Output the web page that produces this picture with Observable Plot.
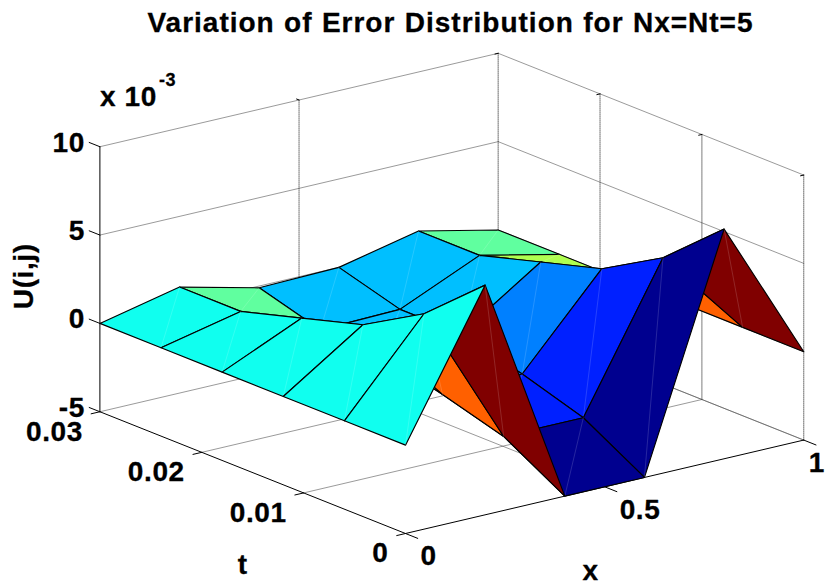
<!DOCTYPE html>
<html>
<head>
<meta charset="utf-8">
<script src="https://cdn.jsdelivr.net/npm/d3@7"></script>
<script src="https://cdn.jsdelivr.net/npm/@observablehq/plot@0.6"></script>
<style>
html,body{margin:0;padding:0;background:#fff;overflow:hidden}
#title{height:48px;width:826px;box-sizing:border-box;padding-top:7px;padding-left:75px;text-align:center;font:bold 28px "Liberation Sans",Arial,sans-serif;letter-spacing:1px;word-spacing:.6px;color:#000;white-space:nowrap;-webkit-text-stroke:.3px #000}
svg{display:block}
</style>
</head>
<body>
<div id="title">Variation of Error Distribution for Nx=Nt=5</div>
<div id="chart"></div>
<script>
// data: surface heights U(i,j) x 10^-3, rows by t node, columns by x node
const xNodes = [0, 0.2, 0.4, 0.6, 0.8, 1];
const tNodes = [0, 0.006, 0.012, 0.018, 0.024, 0.03];
const U_t0 = [0, 8, -5, -5, 8, 0];
const U_t1 = [0, 5, -3, -3, 5, 0];
const U_t2 = [0, 3, -2, -1.9, 3, 0];
const U_t3 = [0, 2, -1.1, -1, 2, 0];
const U_t4 = [0, 1, -1.1, -1, 1, 0];
const U_t5 = [0, 1, -0.1, 0, 1, 0];
const U = [U_t0, U_t1, U_t2, U_t3, U_t4, U_t5];

const xTicks = [0, 0.5, 1];
const tTicks = [0, 0.01, 0.02, 0.03];
const zTicks = [-5, 0, 5, 10];
const xLim = [0, 1], tLim = [0, 0.03], zLim = [-5, 10];
const colorLim = [-5, 8];

// MATLAB-style orthographic view: az = -37.5, el = 17.8
const az = 37.5 * Math.PI / 180, el = 17.8 * Math.PI / 180, boxZ = 0.5545;
const view = (x, t, z) => {
  const X = x, T = t / tLim[1], Z = (z - zLim[0]) / (zLim[1] - zLim[0]);
  return {
    u: X * Math.cos(az) - T * Math.sin(az),
    v: (X * Math.sin(az) + T * Math.cos(az)) * Math.sin(el) + boxZ * Z * Math.cos(el),
    depth: (X * Math.sin(az) + T * Math.cos(az)) * Math.cos(el) - boxZ * Z * Math.sin(el)
  };
};
const pt = (x, t, z, id) => ({...view(x, t, z), id});
const seg = (id, a, b) => [pt(...a, id), pt(...b, id)];

// 64-step jet colormap
const jet = c0 => {
  const c = (Math.min(Math.floor(c0 * 64), 63) + 1) / 64;
  const f = k => Math.max(0, Math.min(1, 4 * c - k + 0.5, -4 * c + k + 2.5));
  return `rgb(${Math.round(f(2)*255)},${Math.round(f(1)*255)},${Math.round(f(0)*255)})`;
};

// faces, painted from back to front
const faces = [];
for (let j = 0; j < tNodes.length - 1; j++) for (let i = 0; i < xNodes.length - 1; i++) {
  const corners = [[i, j], [i + 1, j], [i + 1, j + 1], [i, j + 1]];
  const pts = corners.map(([a, b]) => ({...view(xNodes[a], tNodes[b], U[b][a]), c: U[j][i], id: `${i}-${j}`}));
  faces.push({pts, diag: [pts[0], pts[2]], depth: d3.mean(pts, d => d.depth)});
}
faces.sort((a, b) => b.depth - a.depth);

// walls and floor
const [x0, x1] = xLim, [t0, t1] = tLim, [z0, z1] = zLim;
const wallLines = [
  ...zTicks.flatMap(z => [...seg(`zl${z}`, [x0, t1, z], [x1, t1, z]), ...seg(`zr${z}`, [x1, t1, z], [x1, t0, z])]),
  ...xTicks.filter(x => x > 0).flatMap(x => seg(`xf${x}`, [x, t0, z0], [x, t1, z0])),
  ...tTicks.filter(t => t < t1 && t > 0).flatMap(t => seg(`tf${t}`, [x0, t, z0], [x1, t, z0]))
];
const wallVerticals = [
  ...xTicks.filter(x => x > 0).flatMap(x => seg(`xv${x}`, [x, t1, z0], [x, t1, z1])),
  ...tTicks.filter(t => t < t1).flatMap(t => seg(`tv${t}`, [x1, t, z0], [x1, t, z1]))
];
const axisLines = [
  ...seg("ax-t", [x0, t0, z0], [x0, t1, z0]),
  ...seg("ax-x", [x0, t0, z0], [x1, t0, z0]),
  ...seg("ax-z", [x0, t1, z0], [x0, t1, z1])
];
const tickLen = 0.035, tinyLen = 0.008;
const tickLines = [
  ...zTicks.flatMap(z => seg(`zt${z}`, [x0, t1, z], [x0, t1 * (1 + tickLen), z])),
  ...tTicks.flatMap(t => seg(`tt${t}`, [x0, t, z0], [x0 - 0.022, t, z0])),
  ...xTicks.flatMap(x => seg(`xt${x}`, [x, t0, z0], [x, t0 - 0.04 * t1, z0])),
  ...tTicks.flatMap(t => seg(`ta${t}`, [x1, t, z1], [x1 - tinyLen, t, z1])),
  ...xTicks.filter(x => x > 0 && x < 1).flatMap(x => seg(`xa${x}`, [x, t1, z1], [x, t1 * (1 + tinyLen), z1]))
];

const zLabels = zTicks.map(z => ({...view(x0, t1, z), s: String(z)}));
const tLabels = tTicks.map(t => ({...view(x0, t, z0), s: String(t)}));
const xLabels = xTicks.filter(x => x < 1).map(x => ({...view(x, t0, z0), s: String(x)}));
const xLast = xTicks.filter(x => x === 1).map(x => ({...view(x, t0, z0), s: String(x)}));
const font = {fontFamily: '"Liberation Sans",Arial,sans-serif', fontWeight: "bold", fill: "#000", stroke: "#000", strokeWidth: 0.3};
const line = (data, o) => Plot.line(data, {x: "u", y: "v", z: "id", ...o});
const label = (data, o) => Plot.text(data, {x: "u", y: "v", text: "s", fontSize: 28, ...font, ...o});

const scale = 502, cx = 405, cy = 485, W = 826, H = 537;
const plot = Plot.plot({
  width: W, height: H,
  margin: 0,
  style: {letterSpacing: "0.6px"},
  x: {domain: [-cx / scale, (W - cx) / scale], range: [0, W], axis: null},
  y: {domain: [(cy - H) / scale, cy / scale], range: [H, 0], axis: null},
  color: {type: "linear", domain: [0, 1], interpolate: t => jet(t)},
  marks: [
    line(wallLines, {stroke: "#555", strokeWidth: 0.6}),
    line(wallVerticals, {stroke: "#333", strokeWidth: 0.7, strokeDasharray: "1,1"}),
    line(axisLines, {stroke: "#000", strokeWidth: 1}),
    line(tickLines, {stroke: "#000", strokeWidth: 1}),
    ...faces.flatMap(f => [
      line(f.pts, {fill: d => (d.c - colorLim[0]) / (colorLim[1] - colorLim[0]), stroke: "#000", strokeWidth: 1.15, curve: "linear-closed", strokeLinejoin: "round"}),
      line(f.diag, {stroke: "#fff", strokeOpacity: 0.25, strokeWidth: 0.6})
    ]),
    label(zLabels, {textAnchor: "end", dx: -15, dy: -4}),
    label(tLabels, {textAnchor: "end", dx: -17, dy: 20}),
    label(xLabels, {textAnchor: "start", dx: 15, dy: 23}),
    label(xLast, {textAnchor: "start", dx: 5, dy: 23}),
    label([{...view(x0, t1 / 2, z0), s: "t"}], {dx: -10, dy: 92}),
    label([{...view(x1 / 2, t0, z0), s: "x"}], {dx: -14, dy: 84}),
    label([{...view(x0, t1, 2.5), s: "U(i,j)"}], {dx: -76, dy: -3, rotate: -90}),
    label([{...view(x0, t1, z1), s: "x 10"}], {textAnchor: "start", dx: 0, dy: -50}),
    label([{...view(x0, t1, z1), s: "-3"}], {textAnchor: "start", dx: 59, dy: -66, fontSize: 18})
  ]
});
document.getElementById("chart").appendChild(plot);
</script>
</body>
</html>
